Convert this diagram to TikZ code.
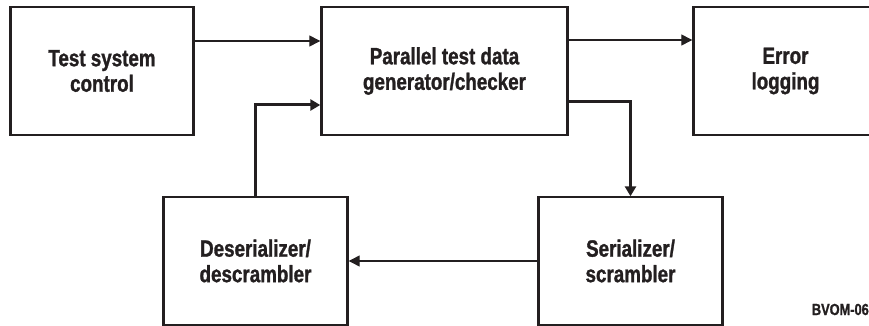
\documentclass[tikz,border=0pt]{standalone}
\usepackage{fontspec}
\setmainfont{Liberation Sans}[FakeStretch=0.8,FakeBold=1.2]
\usetikzlibrary{arrows.meta,calc}
\definecolor{ink}{HTML}{231F20}
\begin{document}
\begin{tikzpicture}[x=1pt,y=-1pt,
  blk/.style={draw=ink,line width=1.4pt,inner sep=0pt,minimum height=128pt,
    align=center,text=ink,font=\fontsize{23.5}{25.5}\selectfont\bfseries},
  thin/.style={draw=ink,line width=1.3pt,-{Triangle[length=11pt,width=11pt]}},
  thick/.style={draw=ink,line width=3pt,-{Triangle[length=10pt,width=11pt]}},
  side/.style={draw=ink,line width=3pt}]
\useasboundingbox (0,0) rectangle (869,326);
\begin{scope}
\clip (0,0) rectangle (869,326);
\node[blk,minimum width=184pt] (b1) at (102,71) {Test system\\control};
\node[blk,minimum width=247pt] (b2) at (444.5,71) {Parallel test data\\generator/checker};
\node[blk,minimum width=185pt] (b3) at (785.5,71) {Error\\logging};
\node[blk,minimum width=185pt] (b4) at (255.5,261) {Deserializer/\\descrambler};
\node[blk,minimum width=185pt] (b5) at (630.5,261) {Serializer/\\scrambler};
\foreach \n in {b1,b2,b3,b4,b5}{
  \draw[side] ($(\n.north west)+(0.8,0)$) -- ($(\n.south west)+(0.8,0)$);
  \draw[side] ($(\n.north east)+(-0.8,0)$) -- ($(\n.south east)+(-0.8,0)$);
}
\draw[thin] ($(b1.east)+(0,-30)$) -- ($(b2.west)+(0,-30)$);
\draw[thin] ($(b2.east)+(0,-31)$) -- ($(b3.west)+(0,-31)$);
\draw[thin] (b5.west) -- (b4.east);
\draw[thick] (b4.north) |- ($(b2.west)+(0,34)$);
\draw[thick] ($(b2.east)+(0,31)$) -| (b5.north);
\node[anchor=base east,inner sep=0pt,text=ink,font=\fontsize{16}{16}\selectfont\bfseries] (lbl) at (869,315) {BVOM-06};
\end{scope}
\end{tikzpicture}
\end{document}
